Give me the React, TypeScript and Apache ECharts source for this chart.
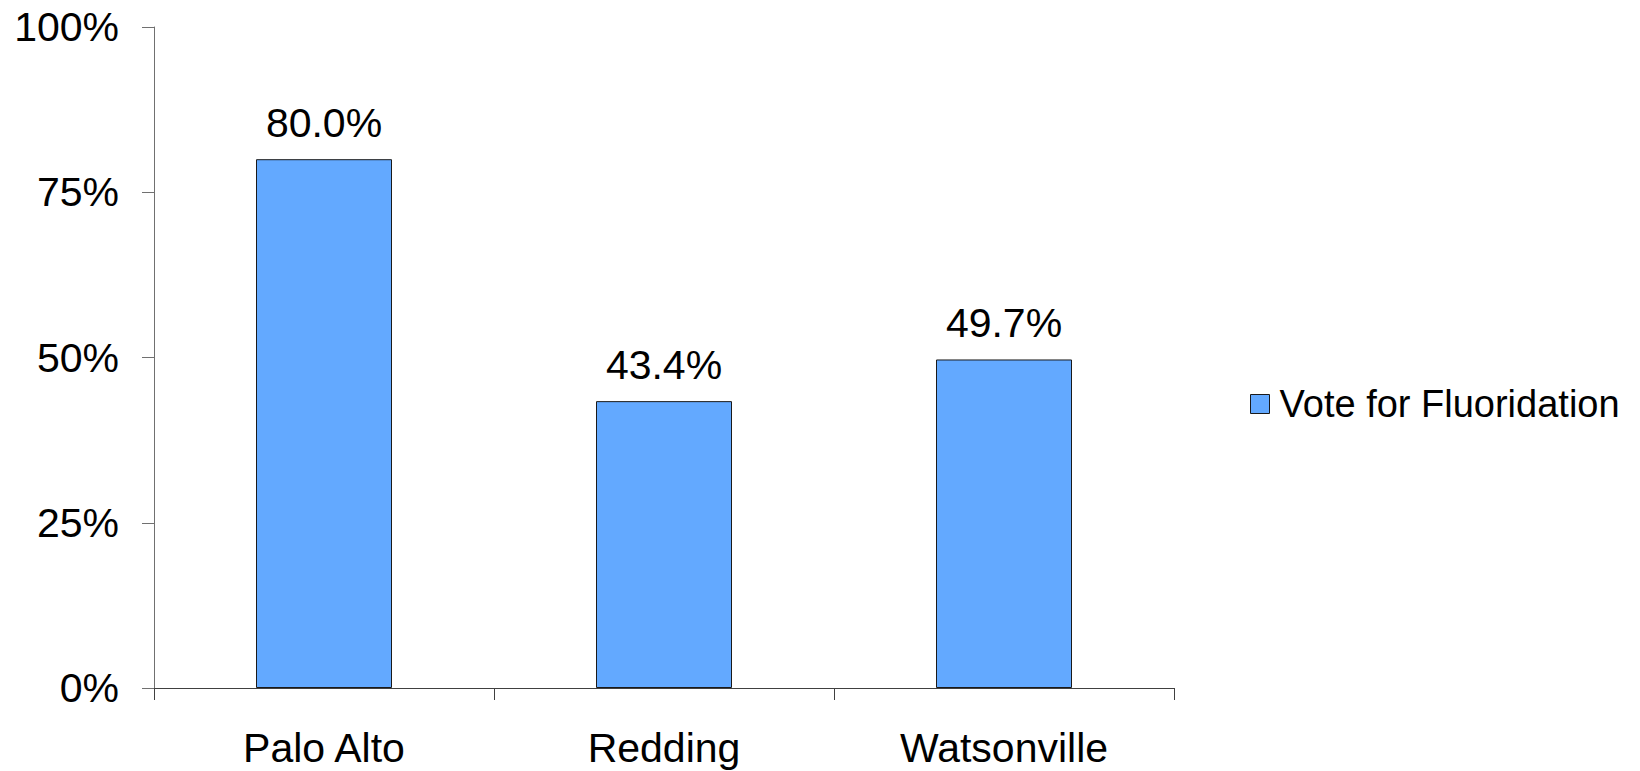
import React, { useEffect, useRef } from "react";
import * as echarts from "echarts";

const categories = ["Palo Alto", "Redding", "Watsonville"];
const voteForFluoridation = [80.0, 43.4, 49.7];
const seriesName = "Vote for Fluoridation";
const yTicks = [0, 25, 50, 75, 100];

const FONT = "'Liberation Sans', Arial, sans-serif";
const BAR_COLOR = "#63A9FF";

export default function App() {
  const ref = useRef<HTMLDivElement>(null);

  useEffect(() => {
    if (!ref.current) return;
    const chart = echarts.init(ref.current, undefined, { renderer: "svg" });
    chart.setOption({
      animation: false,
      backgroundColor: "#ffffff",
      textStyle: { fontFamily: FONT },
      grid: { left: 154, top: 27, width: 1020, height: 661, containLabel: false },
      legend: {
        data: [{ name: seriesName, icon: "rect" }],
        left: 1250,
        top: 385,
        padding: 0,
        itemWidth: 19,
        itemHeight: 19,
        itemStyle: { borderColor: "#1a1a1a", borderWidth: 1 },
        textStyle: { fontSize: 38, color: "#000", fontFamily: FONT, padding: [0, 0, 0, 5] },
      },
      xAxis: {
        type: "category",
        data: categories,
        axisLine: { lineStyle: { color: "#404040", width: 1 } },
        axisTick: { show: true, length: 12, alignWithLabel: false, lineStyle: { color: "#404040" } },
        axisLabel: { fontSize: 41, color: "#000", margin: 39, fontFamily: FONT },
      },
      yAxis: {
        type: "value",
        min: yTicks[0],
        max: yTicks[yTicks.length - 1],
        interval: 25,
        splitLine: { show: false },
        axisLine: { show: true, lineStyle: { color: "#707070", width: 1 } },
        axisTick: { show: true, length: 12, lineStyle: { color: "#707070" } },
        axisLabel: {
          fontSize: 41,
          color: "#000",
          margin: 35,
          fontFamily: FONT,
          formatter: (v: number) => `${v}%`,
        },
      },
      series: [
        {
          name: seriesName,
          type: "bar",
          data: voteForFluoridation,
          barWidth: "40%",
          itemStyle: { color: BAR_COLOR, borderColor: "#1a1a1a", borderWidth: 1 },
          label: {
            show: true,
            position: "top",
            distance: 16,
            fontSize: 41,
            color: "#000",
            fontFamily: FONT,
            formatter: (p: any) => `${Number(p.value).toFixed(1)}%`,
          },
        },
      ],
    });
    return () => chart.dispose();
  }, []);

  return (
    <div
      ref={ref}
      style={{ position: "fixed", left: 0, top: 0, width: 1640, height: 771, background: "#fff" }}
    />
  );
}
